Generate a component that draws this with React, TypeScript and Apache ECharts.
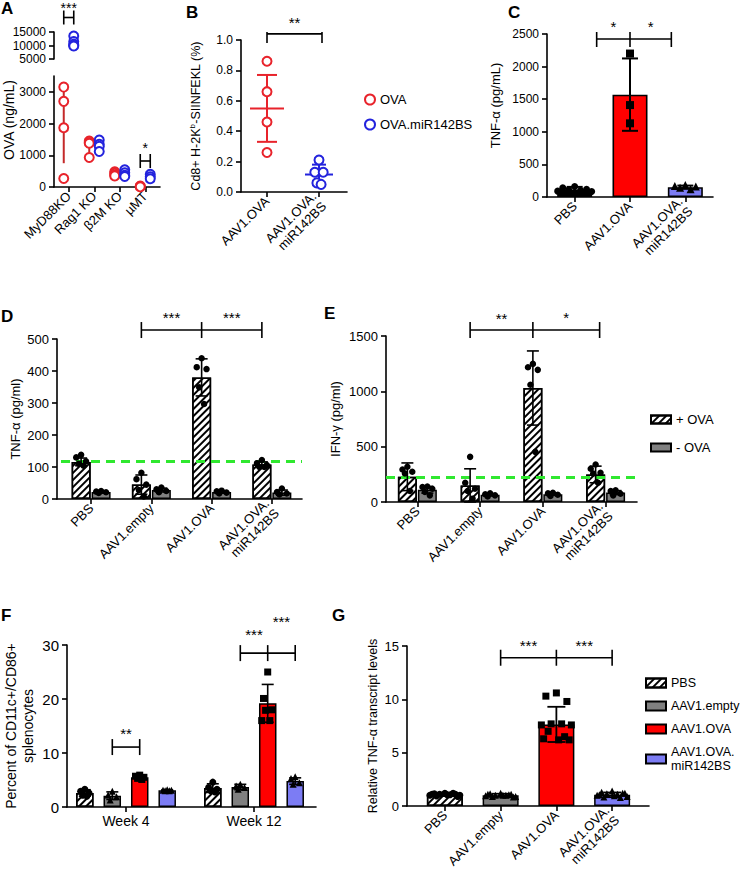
import React, { useEffect, useRef } from 'react';
import * as echarts from 'echarts';

const FONT = "'Liberation Sans', Arial, Helvetica, sans-serif";
const RED = '#ff0000';
const PERI = '#7c7cf4';
const GRAY = '#808080';
const PT_RED = '#e8232b';
const PT_BLUE = '#2323dd';
const ERR_RED = '#c42a2a';
const ERR_BLUE = '#2a2abb';
const GREEN = '#2fe82f';

// ---------- Panel A ----------
const aCats = ['MyD88KO', 'Rag1 KO', 'β2M KO', 'µMT'];
const aOvaPts = [[3150, 2700, 1870, 270], [1450, 1400, 1380, 930], [480, 430, 380, 350], [30, 15, 5]];
const aOvaMean = [2000, 1290, 410, 17];
const aOvaSd = [1250, 230, 55, 12];
const aMirHighPts = [13500, 11500, 10500, 10000, 9800];
const aMirHighMean = 11060;
const aMirHighSd = 1500;
const aMirPts = [[], [1480, 1350, 1280, 1120], [540, 450, 370, 330], [400, 320, 260]];
const aMirMean = [null, 1310, 420, 330];
const aMirSd = [null, 150, 95, 70];

// ---------- Panel B ----------
const bCats = ['AAV1.OVA', 'AAV1.OVA.\nmiR142BS'];
const bOvaPts = [0.86, 0.66, 0.46, 0.26];
const bMirPts = [0.21, 0.13, 0.13, 0.06, 0.05];
const bMean = [0.55, 0.115];
const bSd = [0.22, 0.065];

// ---------- Panel C ----------
const cCats = ['PBS', 'AAV1.OVA', 'AAV1.OVA.\nmiR142BS'];
const cMean = [115, 1570, 150];
const cSd = [40, 555, 25];
const cPbsPts = [160, 140, 120, 110, 100, 90, 85];
const cOvaPts = [2200, 1410, 1130];
const cMirPts = [185, 170, 160, 140, 120];

// ---------- Panel D ----------
const dCats = ['PBS', 'AAV1.empty', 'AAV1.OVA', 'AAV1.OVA.\nmiR142BS'];
const dPlusMean = [116, 45, 380, 108];
const dPlusSd = [12, 30, 58, 8];
const dPlusPts = [[138, 130, 118, 110, 104], [82, 62, 45, 28, 8], [440, 412, 406, 349, 297], [122, 112, 106, 100, 100]];
const dMinusMean = [22, 28, 22, 20];
const dMinusSd = [3, 6, 4, 8];
const dMinusPts = [[25, 23, 21, 19], [36, 30, 25, 21], [26, 24, 20, 17], [33, 22, 17, 14]];
const dPbsLevel = 118;

// ---------- Panel E ----------
const ePlusMean = [228, 150, 1030, 249];
const ePlusSd = [125, 150, 335, 75];
const ePlusPts = [[318, 294, 273, 258, 99], [408, 174, 120, 99, 30], [1248, 1218, 1194, 1059, 453], [339, 300, 264, 258, 174]];
const eMinusMean = [110, 65, 70, 85];
const eMinusSd = [30, 10, 10, 18];
const eMinusPts = [[140, 135, 120, 90, 60], [78, 70, 60, 50], [84, 78, 66, 54], [105, 99, 75, 60]];
const ePbsLevel = 228;

// ---------- Panel F ----------
const fCats = ['Week 4', 'Week 12'];
const fPbsMean = [2.6, 3.5];
const fPbsSd = [0.6, 0.8];
const fPbsPts = [[3.3, 2.9, 2.6, 2.2, 2.0], [4.6, 3.6, 3.3, 3.0, 2.8]];
const fEmptyMean = [2.1, 3.7];
const fEmptySd = [0.7, 0.5];
const fEmptyPts = [[2.9, 2.2, 1.9, 1.3], [4.2, 3.9, 3.6, 3.3]];
const fOvaMean = [5.5, 19.2];
const fOvaSd = [0.3, 3.5];
const fOvaPts = [[5.9, 5.7, 5.5, 5.3, 5.1], [25.0, 20.1, 18.0, 17.9, 16.0, 16.0]];
const fMirMean = [3.1, 4.8];
const fMirSd = [0.1, 0.6];
const fMirPts = [[3.2, 3.1, 3.1, 3.0, 3.0], [5.6, 5.3, 4.5, 4.2]];

// ---------- Panel G ----------
const gCats = ['PBS', 'AAV1.empty', 'AAV1.OVA', 'AAV1.OVA.\nmiR142BS'];
const gMean = [1.05, 1.0, 7.65, 1.05];
const gSd = [0.12, 0.15, 1.65, 0.22];
const gPbsPts = [1.2, 1.15, 1.1, 1.1, 1.05, 1.0, 1.0, 0.95, 1.2, 1.1, 0.9, 1.05];
const gEmptyPts = [1.2, 1.15, 1.1, 1.0, 1.0, 0.95, 0.9, 0.9, 1.05, 1.1, 0.85, 1.0];
const gOvaPts = [10.6, 10.3, 9.8, 7.7, 7.7, 7.6, 7.6, 7.0, 6.5, 6.3, 6.2, 6.2];
const gMirPts = [1.4, 1.3, 1.2, 1.15, 1.1, 1.0, 0.9, 0.85, 0.8, 1.05, 1.2, 0.95];

// ---------- significance annotations ----------
// pts: [category, pixel offset within category], y: value level
const aSigTop = [{ pts: [[0, -5], [0, 5]], y: 20370, up: 7, down: 7, labels: [['***', -10]] }];
const aSigLow = [{ pts: [[3, -5], [3, 5]], y: 820, up: 7, down: 7, labels: [['*', -13]] }];
const bSig = [{ pts: [[0, 0], [1, 3]], y: 1.04, up: 2, down: 9, labels: [['**', -11]] }];
const cSig = [{ pts: [[0, 22], [1, 0], [2, -14]], y: 2423, up: 7, down: 8, labels: [['*', -13], ['*', -13]] }];
const dSig = [{ pts: [[1, -10], [2, -10], [3, -10]], y: 528, up: 8, down: 8, labels: [['***', -13], ['***', -13]] }];
const eSig = [{ pts: [[1, -10], [2, -10], [3, -6]], y: 1554, up: 8, down: 8, labels: [['**', -12], ['*', -13]] }];
const fSig = [
  { pts: [[0, -13.7], [0, 13.7]], y: 11.1, up: 8, down: 8, labels: [['**', -14]] },
  { pts: [[1, -13.7], [1, 13.7], [1, 41.2]], y: 28.5, up: 8, down: 8, labels: [['***', -19], ['***', -32]] },
];
const gSig = [{ pts: [[1, 0], [2, 0], [3, 0]], y: 13.9, up: 8, down: 8, labels: [['***', -12], ['***', -12]] }];

const JIT = [0, -0.7, 0.7, -0.35, 0.35, -1, 1, -0.55, 0.55, -0.85, 0.85, 0.15];

const HATCH = {
  symbol: 'rect',
  symbolSize: 1,
  color: '#000',
  backgroundColor: '#fff',
  dashArrayX: [1, 0],
  dashArrayY: [1.1, 2.3],
  rotation: -Math.PI / 4,
};

function buildOption() {
  const grid: any[] = [];
  const xAxis: any[] = [];
  const yAxis: any[] = [];
  const series: any[] = [];
  const LINE = { color: '#000', width: 1.6 };

  function panel(p: any) {
    const g0 = grid.length;
    const h = p.bottom - p.top;
    const showX = p.showX !== false;
    grid.push({ left: p.yx, top: p.top, width: p.lineEnd - p.yx, height: h });
    grid.push({ left: p.catL, top: p.top, width: p.catR - p.catL, height: h });
    xAxis.push({
      gridIndex: g0, type: 'value', min: 0, max: 1,
      axisLine: { show: showX, onZero: false, lineStyle: LINE },
      axisTick: { show: false }, axisLabel: { show: false }, splitLine: { show: false },
    });
    const xi = xAxis.length;
    xAxis.push({
      gridIndex: g0 + 1, type: 'category', data: p.cats, show: showX,
      axisLine: { show: false },
      axisTick: { show: true, alignWithLabel: true, length: 5, lineStyle: LINE },
      axisLabel: {
        interval: 0, rotate: p.rotate, fontSize: p.catFont, fontFamily: FONT, color: '#000',
        margin: p.catMargin || 7, lineHeight: p.catFont + 1,
      },
    });
    const yl: any = {
      gridIndex: g0, type: 'value', min: p.min, max: p.max, interval: p.interval,
      axisLine: { show: true, onZero: false, lineStyle: LINE },
      axisTick: { show: true, length: 5, lineStyle: LINE },
      axisLabel: { fontSize: p.tickFont, fontFamily: FONT, color: '#000', margin: 8, formatter: p.fmt || ((v: number) => String(v)) },
      splitLine: { show: false },
    };
    if (p.hideMax) yl.axisLabel.showMaxLabel = false;
    if (p.name) {
      yl.name = p.name;
      yl.nameLocation = 'middle';
      yl.nameGap = p.nameGap;
      yl.nameTextStyle = { fontSize: p.nameFont, fontFamily: FONT, color: '#000', lineHeight: p.nameFont + 3 };
      if (p.namePad) yl.nameTextStyle.padding = p.namePad;
      if (p.rich) yl.nameTextStyle.rich = p.rich;
    }
    yAxis.push(yl);
    const yi = yAxis.length;
    yAxis.push({ gridIndex: g0 + 1, type: 'value', min: p.min, max: p.max, show: false });
    return { xi, yi };
  }

  function pts(ax: any, name: string, groups: number[][], off: number, spread: number, symbol: string, size: number, color: string) {
    const data: any[] = [];
    groups.forEach((g, c) => g.forEach((v, i) => {
      data.push({ value: [c, v], symbolOffset: [off + JIT[i % JIT.length] * spread, 0] });
    }));
    series.push({
      type: 'scatter', name, xAxisIndex: ax.xi, yAxisIndex: ax.yi, symbol, symbolSize: size,
      itemStyle: { color, borderColor: color, borderWidth: symbol === 'emptyCircle' ? 1.6 : 0, opacity: 1 },
      data, z: 6, silent: true,
    });
  }

  function err(ax: any, means: any[], sds: any[], off: number, cap: number, color: string, lw: number, meanHalf = 0) {
    const data: any[] = [];
    means.forEach((m, i) => { if (m != null) data.push([i, m, sds[i]]); });
    series.push({
      type: 'custom', xAxisIndex: ax.xi, yAxisIndex: ax.yi, clip: false, silent: true, z: 5,
      dimensions: ['c', 'm', 's'], encode: { x: 'c', y: 'm' }, data,
      renderItem: (params: any, api: any) => {
        const c = api.value(0), m = api.value(1), s = api.value(2);
        const p = api.coord([c, m]);
        const t = api.coord([c, m + s]);
        const b = api.coord([c, Math.max(m - s, 0)]);
        const x = p[0] + off;
        const st = { stroke: color, lineWidth: lw };
        const ch: any[] = [{ type: 'line', shape: { x1: x, y1: t[1], x2: x, y2: b[1] }, style: st }];
        if (cap) {
          ch.push({ type: 'line', shape: { x1: x - cap, y1: t[1], x2: x + cap, y2: t[1] }, style: st });
          ch.push({ type: 'line', shape: { x1: x - cap, y1: b[1], x2: x + cap, y2: b[1] }, style: st });
        }
        if (meanHalf) ch.push({ type: 'line', shape: { x1: x - meanHalf, y1: p[1], x2: x + meanHalf, y2: p[1] }, style: st });
        return { type: 'group', children: ch };
      },
    });
  }

  function sig(ax: any, sigs: any[], fontSize = 15) {
    series.push({
      type: 'custom', xAxisIndex: ax.xi, yAxisIndex: ax.yi, clip: false, silent: true, z: 10,
      dimensions: ['c', 'y'], encode: { x: 'c', y: 'y' },
      data: sigs.map((s) => [s.pts[0][0], s.y]),
      renderItem: (params: any, api: any) => {
        const s = sigs[params.dataIndex];
        const xs = s.pts.map(([c, o]: number[]) => api.coord([c, s.y])[0] + o);
        const y = api.coord([s.pts[0][0], s.y])[1];
        const st = { stroke: '#000', lineWidth: 1.6 };
        const ch: any[] = [{ type: 'line', shape: { x1: xs[0], y1: y, x2: xs[xs.length - 1], y2: y }, style: st }];
        xs.forEach((x: number) => ch.push({ type: 'line', shape: { x1: x, y1: y - s.up, x2: x, y2: y + s.down }, style: st }));
        s.labels.forEach(([t, dy]: any, i: number) => ch.push({
          type: 'text', x: (xs[i] + xs[i + 1]) / 2, y: y + dy,
          style: { text: t, fontSize, fontFamily: FONT, fill: '#000', align: 'center', verticalAlign: 'middle' },
        }));
        return { type: 'group', children: ch };
      },
    });
  }

  function refLine(ax: any, level: number) {
    series.push({
      type: 'line', name: 'ref', xAxisIndex: ax.xi, yAxisIndex: ax.yi, data: [], z: 7, silent: true,
      markLine: {
        silent: true, symbol: ['none', 'none'], label: { show: false },
        lineStyle: { color: GREEN, width: 3, type: [9, 6] },
        data: [{ yAxis: level }],
      },
    });
  }

  // ===== Panel A =====
  const aUp = panel({ yx: 54, lineEnd: 160, catL: 56, catR: 158, top: 32, bottom: 59, cats: aCats, min: 5000, max: 15000, interval: 5000, tickFont: 12, catFont: 13, rotate: 45, showX: false });
  const aLo = panel({ yx: 54, lineEnd: 160, catL: 56, catR: 158, top: 76, bottom: 187, cats: aCats, min: 0, max: 3500, interval: 1000, tickFont: 12, catFont: 13, rotate: 45, hideMax: true });
  err(aLo, aOvaMean, aOvaSd, -5, 0, ERR_RED, 2);
  err(aLo, aMirMean, aMirSd, 5, 0, ERR_BLUE, 2);
  err(aUp, [aMirHighMean], [aMirHighSd], 5, 0, ERR_BLUE, 2);
  pts(aLo, 'A OVA', aOvaPts, -5, 0, 'emptyCircle', 9, PT_RED);
  pts(aLo, 'A OVA.miR142BS', aMirPts, 5, 0, 'emptyCircle', 9, PT_BLUE);
  pts(aUp, 'A OVA.miR142BS hi', [aMirHighPts], 5, 0, 'emptyCircle', 9, PT_BLUE);
  sig(aUp, aSigTop, 14);
  sig(aLo, aSigLow, 14);

  // ===== Panel B =====
  const bAx = panel({
    yx: 241, lineEnd: 347, catL: 241, catR: 345, top: 40, bottom: 192, cats: bCats, min: 0, max: 1, interval: 0.2,
    tickFont: 12, catFont: 13, rotate: 45, fmt: (v: number) => v.toFixed(1),
    name: '{a|Cd8+ H-2K}{s|b}{a|-SIINFEKL (%)}', nameFont: 12.5, nameGap: 38,
    rich: { a: { fontSize: 12.5, fontFamily: FONT, color: '#000', lineHeight: 15 }, s: { fontSize: 8, fontFamily: FONT, color: '#000', verticalAlign: 'top', lineHeight: 9 } },
  });
  pts(bAx, 'OVA', [bOvaPts, []], 0, 0, 'emptyCircle', 9, PT_RED);
  pts(bAx, 'OVA.miR142BS', [[], bMirPts], 0, 6, 'emptyCircle', 9, PT_BLUE);
  err(bAx, [bMean[0], null], [bSd[0], null], 0, 10, PT_RED, 2, 17);
  err(bAx, [null, bMean[1]], [null, bSd[1]], 0, 7, PT_BLUE, 2, 14);
  sig(bAx, bSig);

  // ===== Panel C =====
  const cAx = panel({
    yx: 547, lineEnd: 713, catL: 547, catR: 713, top: 34, bottom: 197, cats: cCats, min: 0, max: 2500, interval: 500,
    tickFont: 12, catFont: 13, rotate: 45, name: 'TNF-α (pg/mL)', nameFont: 13, nameGap: 44, namePad: [0, 0, 0, 20],
  });
  const cColors = ['#000', RED, PERI];
  series.push({
    type: 'bar', name: 'C bars', xAxisIndex: cAx.xi, yAxisIndex: cAx.yi, barWidth: 35, z: 2, silent: true,
    data: cMean.map((v, i) => ({ value: v, itemStyle: { color: cColors[i], borderColor: '#000', borderWidth: 1.6 } })),
  });
  err(cAx, cMean, cSd, 0, 8, '#000', 2);
  pts(cAx, 'C pbs', [cPbsPts, [], []], 0, 17, 'circle', 7, '#000');
  pts(cAx, 'C ova', [[], cOvaPts, []], 0, 0, 'rect', 8, '#000');
  pts(cAx, 'C mir', [[], [], cMirPts], 0, 15, 'triangle', 8, '#000');
  sig(cAx, cSig);

  // ===== Panel D & E =====
  function dePanel(ax: any, plusMean: number[], plusSd: number[], plusPts: number[][], minusMean: number[], minusSd: number[], minusPts: number[][], level: number, sigs: any[]) {
    series.push({
      type: 'bar', name: '+ OVA', xAxisIndex: ax.xi, yAxisIndex: ax.yi, barWidth: 19, barGap: '5%', z: 2, silent: true,
      itemStyle: { color: '#fff', borderColor: '#000', borderWidth: 1.5, decal: HATCH }, data: plusMean,
    });
    series.push({
      type: 'bar', name: '- OVA', xAxisIndex: ax.xi, yAxisIndex: ax.yi, barWidth: 19, barGap: '5%', z: 2, silent: true,
      itemStyle: { color: GRAY, borderColor: '#000', borderWidth: 1.5 }, data: minusMean,
    });
    err(ax, plusMean, plusSd, -10, 6, '#000', 1.6);
    err(ax, minusMean, minusSd, 10, 6, '#000', 1.6);
    pts(ax, 'pts+', plusPts, -10, 7, 'circle', 6.5, '#000');
    pts(ax, 'pts-', minusPts, 10, 7, 'circle', 6.5, '#000');
    refLine(ax, level);
    sig(ax, sigs);
  }
  const dAx = panel({
    yx: 57, lineEnd: 302, catL: 61, catR: 302, top: 339, bottom: 499, cats: dCats, min: 0, max: 500, interval: 100,
    tickFont: 13, catFont: 13, rotate: 45, name: 'TNF-α (pg/ml)', nameFont: 13, nameGap: 31,
  });
  dePanel(dAx, dPlusMean, dPlusSd, dPlusPts, dMinusMean, dMinusSd, dMinusPts, dPbsLevel, dSig);
  const eAx = panel({
    yx: 386, lineEnd: 637, catL: 386, catR: 637, top: 336, bottom: 502, cats: dCats, min: 0, max: 1500, interval: 500,
    tickFont: 13, catFont: 13, rotate: 45, name: 'IFN-γ (pg/ml)', nameFont: 13, nameGap: 43,
  });
  dePanel(eAx, ePlusMean, ePlusSd, ePlusPts, eMinusMean, eMinusSd, eMinusPts, ePbsLevel, eSig);

  // ===== Panel F =====
  const fAx = panel({
    yx: 67, lineEnd: 316, catL: 62, catR: 318, top: 645, bottom: 807, cats: fCats, min: 0, max: 30, interval: 10,
    tickFont: 15, catFont: 14, rotate: 0, catMargin: 6, name: 'Percent of CD11c+/CD86+\nsplenocytes', nameFont: 14, nameGap: 31,
  });
  const fSeries = [
    { name: 'PBS', mean: fPbsMean, sd: fPbsSd, p: fPbsPts, style: { color: '#fff', decal: HATCH }, sym: 'circle' },
    { name: 'AAV1.empty', mean: fEmptyMean, sd: fEmptySd, p: fEmptyPts, style: { color: GRAY }, sym: 'triangle' },
    { name: 'AAV1.OVA', mean: fOvaMean, sd: fOvaSd, p: fOvaPts, style: { color: RED }, sym: 'rect' },
    { name: 'AAV1.OVA.\nmiR142BS', mean: fMirMean, sd: fMirSd, p: fMirPts, style: { color: PERI }, sym: 'triangle' },
  ];
  const fOffs = [-41.2, -13.7, 13.7, 41.2];
  fSeries.forEach((s) => {
    series.push({
      type: 'bar', name: s.name, xAxisIndex: fAx.xi, yAxisIndex: fAx.yi, barWidth: 17.5, barGap: '57%', z: 2, silent: true,
      itemStyle: { borderColor: '#000', borderWidth: 1.5, ...s.style }, data: s.mean,
    });
  });
  fSeries.forEach((s, k) => {
    err(fAx, s.mean, s.sd, fOffs[k], 6, '#000', 1.6);
    pts(fAx, 'fp' + k, s.p, fOffs[k], 6, s.sym, 7, '#000');
  });
  sig(fAx, fSig);

  // ===== Panel G =====
  const gAx = panel({
    yx: 407, lineEnd: 649, catL: 417, catR: 640, top: 646, bottom: 806, cats: gCats, min: 0, max: 15, interval: 5,
    tickFont: 13, catFont: 13, rotate: 45, name: 'Relative TNF-α transcript levels', nameFont: 12.5, nameGap: 26,
  });
  const gStyles = [{ color: '#fff', decal: HATCH }, { color: GRAY }, { color: RED }, { color: PERI }];
  series.push({
    type: 'bar', name: 'G bars', xAxisIndex: gAx.xi, yAxisIndex: gAx.yi, barWidth: 36, z: 2, silent: true,
    data: gMean.map((v, i) => ({ value: v, itemStyle: { borderColor: '#000', borderWidth: 1.5, ...gStyles[i] } })),
  });
  err(gAx, gMean, gSd, 0, 9, '#000', 1.8);
  pts(gAx, 'g0', [gPbsPts, [], [], []], 0, 15, 'circle', 7, '#000');
  pts(gAx, 'g1', [[], gEmptyPts, [], []], 0, 15, 'triangle', 7, '#000');
  pts(gAx, 'g2', [[], [], gOvaPts, []], 0, 15, 'rect', 7, '#000');
  pts(gAx, 'g3', [[], [], [], gMirPts], 0, 15, 'triangle', 7, '#000');
  sig(gAx, gSig);

  const letter = (t: string, x: number, y: number) => ({
    type: 'text', left: x, top: y,
    style: { text: t, fontSize: 17, fontWeight: 'bold', fontFamily: FONT, fill: '#000' },
  });

  const legText = { fontSize: 13, fontFamily: FONT, color: '#000' };

  return {
    animation: false,
    backgroundColor: '#fff',
    grid, xAxis, yAxis, series,
    legend: [
      {
        left: 359, top: 88, orient: 'vertical', itemGap: 12, itemWidth: 10, itemHeight: 10, selectedMode: false,
        data: [{ name: 'OVA', icon: 'emptyCircle' }, { name: 'OVA.miR142BS', icon: 'emptyCircle' }], textStyle: legText,
      },
      {
        left: 645, top: 408, orient: 'vertical', itemGap: 15, itemWidth: 20, itemHeight: 8, selectedMode: false,
        icon: 'rect', data: ['+ OVA', '- OVA'], textStyle: legText,
      },
      {
        left: 640, top: 671, orient: 'vertical', itemGap: 9, itemWidth: 20, itemHeight: 9, selectedMode: false,
        icon: 'rect', data: ['PBS', 'AAV1.empty', 'AAV1.OVA', 'AAV1.OVA.\nmiR142BS'],
        textStyle: { ...legText, fontSize: 12.5, lineHeight: 14 },
      },
    ],
    graphic: [
      letter('A', 1, 0),
      letter('B', 186, 4),
      letter('C', 508, 4),
      letter('D', 1, 308),
      letter('E', 324, 305),
      letter('F', 1, 607),
      letter('G', 332, 607),
      {
        type: 'text', x: 9, y: 120, rotation: Math.PI / 2,
        style: { text: 'OVA (ng/mL)', fontSize: 14, fontFamily: FONT, fill: '#000', align: 'center', verticalAlign: 'middle' },
      },
    ],
  };
}

export default function App() {
  const ref = useRef<HTMLDivElement>(null);
  useEffect(() => {
    document.body.style.margin = '0';
    const chart = echarts.init(ref.current as HTMLDivElement, undefined, { renderer: 'svg' });
    chart.setOption(buildOption() as any);
    return () => chart.dispose();
  }, []);
  return <div ref={ref} style={{ position: 'absolute', left: 0, top: 0, width: 740, height: 880, background: '#fff' }} />;
}
